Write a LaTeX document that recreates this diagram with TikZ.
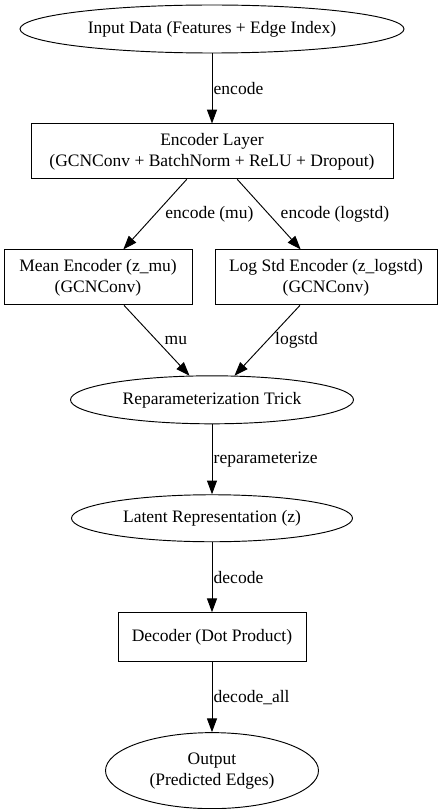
\documentclass[tikz,border=0pt]{standalone}
\usepackage{fontspec}
\setmainfont{Liberation Serif}
\usetikzlibrary{positioning,shapes.geometric,arrows.meta}

\begin{document}
\begin{tikzpicture}[
  font=\fontsize{14}{16.8}\selectfont,
  line width=0.75pt,
  >={Triangle[length=11pt,width=8pt]},
  oval/.style={draw, ellipse, inner sep=0pt, align=center},
  box/.style={draw, rectangle, inner sep=0pt, align=center, minimum height=44pt},
  lbl/.style={right, inner sep=1pt},
  node distance=56pt
]
\useasboundingbox (0,0) rectangle (354.4pt,-647.2pt);
\node[oval, minimum width=307.2pt, minimum height=38.4pt] (in) at (169.6pt,-23.2pt) {Input Data (Features + Edge Index)};
\node[box, minimum width=289.6pt, below=of in] (enc) {Encoder Layer\\(GCNConv + BatchNorm + ReLU + Dropout)};
\node[box, minimum width=150.4pt, below=of enc, xshift=-91.2pt] (mean) {Mean Encoder (z\_mu)\\(GCNConv)};
\node[box, minimum width=177.6pt, below=of enc, xshift=91.2pt] (logstd) {Log Std Encoder (z\_logstd)\\(GCNConv)};
\coordinate (mid) at (mean.south -| enc.south);
\node[oval, minimum width=226.4pt, minimum height=38.4pt, below=of mid] (rep) {Reparameterization Trick};
\node[oval, minimum width=224.8pt, minimum height=37.6pt, below=of rep] (lat) {Latent Representation (z)};
\node[box, minimum width=150.4pt, minimum height=39.2pt, below=of lat] (dec) {Decoder (Dot Product)};
\node[oval, minimum width=170.4pt, minimum height=60.8pt, below=of dec] (out) {Output\\(Predicted Edges)};
\path[->]
(in) edge node[lbl] {encode} (enc)
(enc) edge node[lbl, xshift=7pt] {encode (mu)} (mean)
edge node[lbl, xshift=8pt] {encode (logstd)} (logstd)
(mean) edge node[lbl, xshift=5pt] {mu} (rep)
(logstd) edge node[lbl, xshift=5pt] {logstd} (rep)
(rep) edge node[lbl] {reparameterize} (lat)
(lat) edge node[lbl] {decode} (dec)
(dec) edge node[lbl] {decode\_all} (out)
;
\end{tikzpicture}
\end{document}
